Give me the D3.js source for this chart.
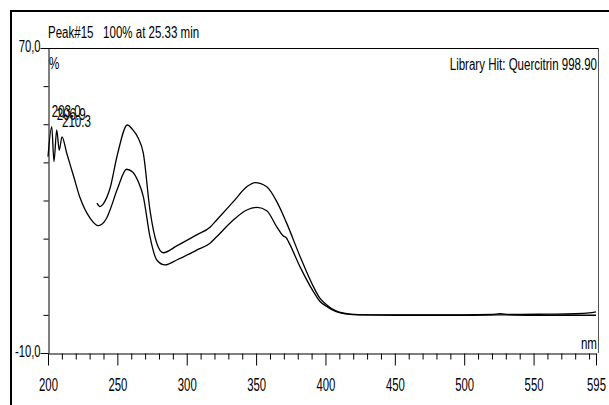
<!DOCTYPE html>
<html><head><meta charset="utf-8">
<script src="https://cdn.jsdelivr.net/npm/d3@7"></script>
<style>
body{margin:0;background:#fff;}
text{font-family:'Liberation Sans','Arial',sans-serif;fill:#000;}
</style></head>
<body><svg id="c" width="609" height="405"></svg>
<script>
// wavelength (nm) and absorbance (%) of the lower (sample) spectrum
const sampleNm  = [200,202.7,204.3,206.3,208.1,210.1,213.5,218.2,223.1,230.3,236.3,242.3,244.7,250,256.7,261,265.1,268.7,273.5,278.4,284.4,292.8,307.2,316.8,321.6,333.6,343.3,350.9,357.7,364.9,369.6,371.6,373.3,381.7,391.3,396.1,401,405,410,417.7,430,450,500,525,550,575,595];
const sampleVal = [41.5,49.4,40.2,48.5,43.2,46.7,42.4,36.7,30.7,25.4,23.4,25.4,27.5,33,38.2,37.5,34.9,31.0,20.5,14.4,13.1,14.4,17.0,18.8,20.5,24.9,27.5,28.2,27.3,23.1,20.7,20.3,19.2,12.6,6.1,3.5,2.2,1.3,0.6,0.15,0.0,-0.1,-0.1,0.0,-0.1,-0.1,-0.1];
// library hit spectrum (upper)
const libNm  = [235.3,237.5,240,244.7,250,257.2,261,265.1,268.7,273.5,278.4,283.1,292.8,307.2,316.8,321.6,333.6,343.3,349.2,357.7,364.9,372.1,381.7,391.3,396.1,401,405,410,417.7,430,450,500,520,526,532,560,580,590,595];
const libVal = [29.3,28.4,29.2,33.2,42,49.8,48.6,46.3,42.4,27.5,18.8,16.3,18.1,21.0,23.0,24.9,29.7,33.6,34.7,33.6,29.7,24.0,15.3,7.4,4.3,2.6,1.5,0.7,0.2,0.0,0.0,0.0,0.1,0.35,0.1,0.2,0.3,0.5,0.8];
// peak labels
const peakNm  = [202.7,206.3,210.1];
const peakVal = [49.4,48.5,46.7];
const peakLabels = ["203.0","206.9","210.3"];
const xTicksMajor = [200,250,300,350,400,450,500,550,595];
const yTickValues = [-10,0,10,20,30,40,50,60,70];
const yTickLabels = {"-10":"-10,0","70":"70,0"};
const titleText = "Peak#15   100% at 25.33 min";
const hitText = "Library Hit: Quercitrin 998.90";

const svg = d3.select("#c");
const L=48, R=598, T=48, B=353;
const x = d3.scaleLinear().domain([200,595]).range([L,R-2]);
const y = d3.scaleLinear().domain([-10,70]).range([B,T]);

// condense text horizontally (the original uses a narrow typeface)
function narrow(sel, f){
  sel.each(function(){
    const w = this.getComputedTextLength();
    d3.select(this).attr("textLength", w*f).attr("lengthAdjust","spacingAndGlyphs");
  });
}

// outer frame
svg.append("line").attr("x1",10).attr("x2",609).attr("y1",11).attr("y2",11).attr("stroke","#000").attr("stroke-width",2);
svg.append("line").attr("x1",11).attr("x2",11).attr("y1",10).attr("y2",405).attr("stroke","#000").attr("stroke-width",2);

// plot frame
svg.append("line").attr("x1",L).attr("x2",R).attr("y1",T+0.5).attr("y2",T+0.5).attr("stroke","#000");
svg.append("line").attr("x1",R+0.5).attr("x2",R+0.5).attr("y1",T).attr("y2",B).attr("stroke","#555");

// x axis
const minor = d3.range(200,596,10).filter(v=>v%50!==0);
const xAxis = d3.axisBottom(x).tickValues(xTicksMajor).tickSize(12).tickSizeOuter(0).tickFormat(d3.format("d"));
const gx = svg.append("g").attr("transform",`translate(0,${B+0.5})`).call(xAxis);
gx.selectAll("text").style("font-size","18px").attr("dy","0").attr("y",37).call(narrow,0.63);
gx.selectAll("path,line").attr("stroke","#000");
const gxm = svg.append("g").attr("transform",`translate(0,${B+0.5})`)
  .call(d3.axisBottom(x).tickValues(minor).tickSize(6).tickSizeOuter(0).tickFormat(""));
gxm.select("path").remove();
gxm.selectAll("line").attr("stroke","#000");

// y axis
const yAxis = d3.axisLeft(y).tickValues(yTickValues).tickSizeOuter(0)
  .tickFormat(d=>yTickLabels[String(d)]||"");
const gy = svg.append("g").attr("transform",`translate(${L+0.5},0)`).call(yAxis);
gy.selectAll(".tick line").attr("x2",d=>yTickLabels[String(d)]?-8:-5).attr("stroke","#000");
gy.select("path").attr("stroke","#000");
gy.selectAll("text").style("font-size","17px").attr("x",-8).attr("dy","0.2em").call(narrow,0.66);

// curves
const line = d3.line().x(d=>x(d[0])).y(d=>y(d[1])).curve(d3.curveMonotoneX);
svg.append("path").datum(sampleNm.map((n,i)=>[n,sampleVal[i]])).attr("d",line)
  .attr("fill","none").attr("stroke","#000").attr("stroke-width",1.3);
svg.append("path").datum(libNm.map((n,i)=>[n,libVal[i]])).attr("d",line)
  .attr("fill","none").attr("stroke","#000").attr("stroke-width",1.3);

// peak labels
svg.selectAll(".pk").data(peakLabels).enter().append("text").attr("class","pk")
  .attr("x",(d,i)=>x(peakNm[i])).attr("y",(d,i)=>y(peakVal[i])-10)
  .style("font-size","17px").text(d=>d).call(narrow,0.68);

// texts
svg.append("text").attr("x",L).attr("y",38).style("font-size","16px").style("white-space","pre").text(titleText).call(narrow,0.72);
svg.append("text").attr("x",L+1).attr("y",69).style("font-size","17px").text("%").call(narrow,0.68);
svg.append("text").attr("x",R-1).attr("y",70).attr("text-anchor","end").style("font-size","16px").text(hitText).call(narrow,0.72);
svg.append("text").attr("x",R-1).attr("y",349).attr("text-anchor","end").style("font-size","17px").text("nm").call(narrow,0.68);
</script></body></html>
